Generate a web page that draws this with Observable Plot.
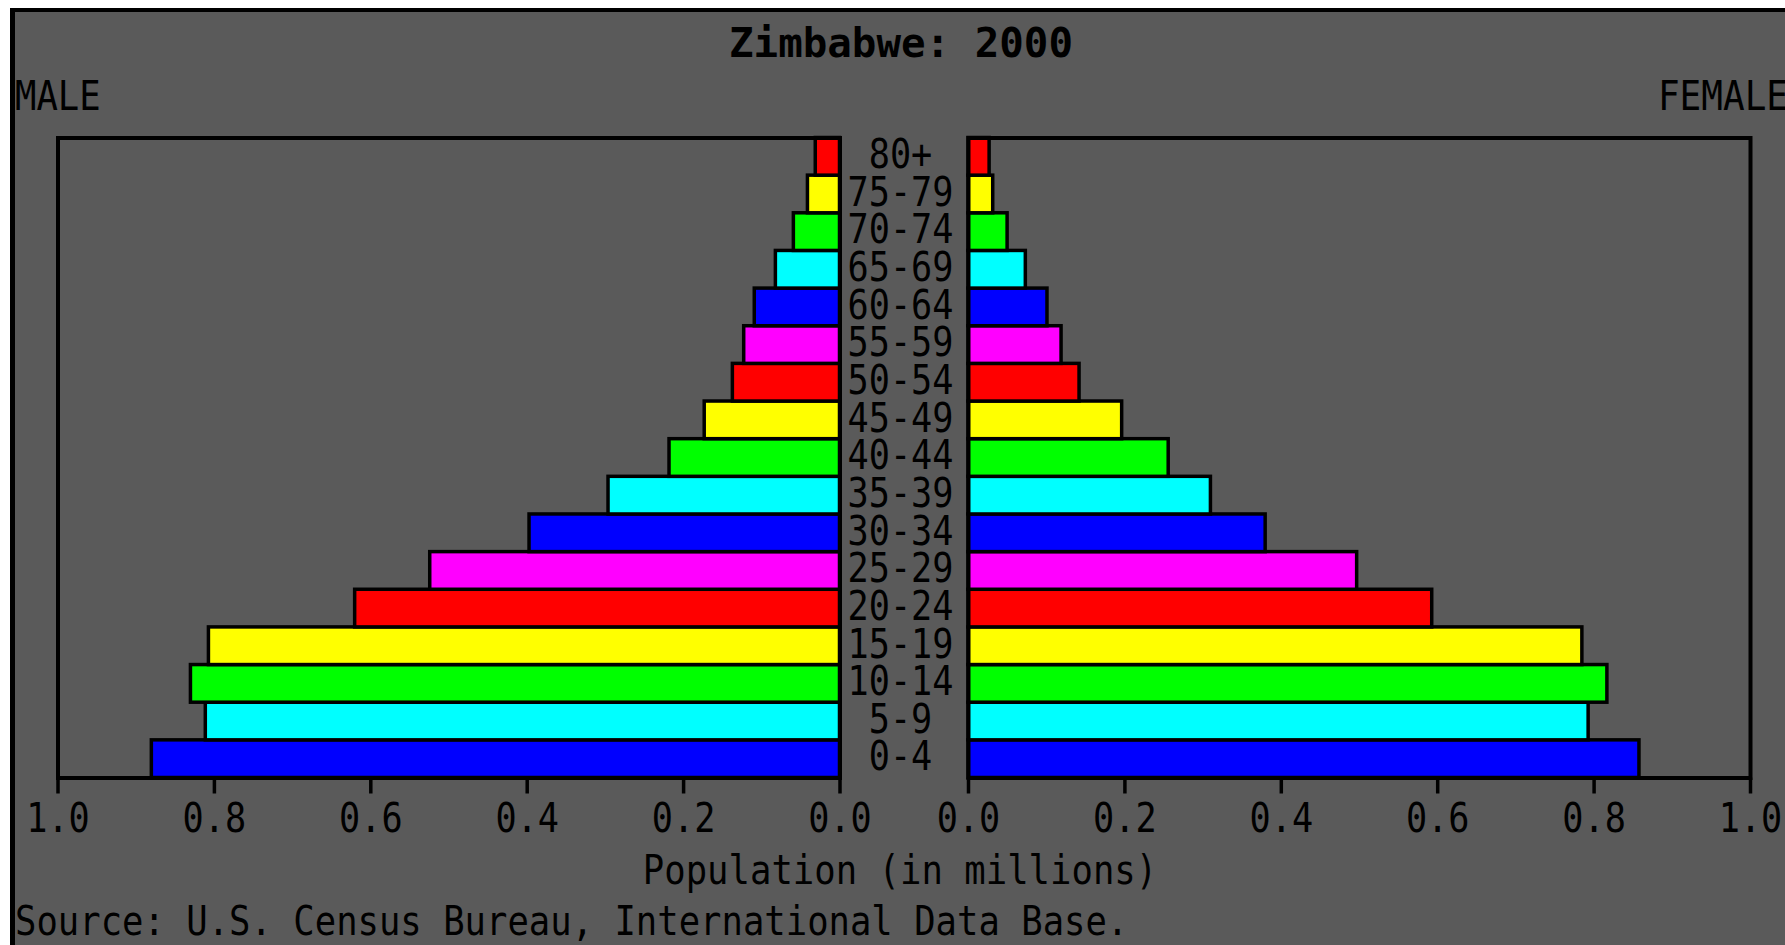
<!DOCTYPE html>
<html>
<head>
<meta charset="utf-8">
<script src="https://cdn.jsdelivr.net/npm/d3@7"></script>
<script src="https://cdn.jsdelivr.net/npm/@observablehq/plot@0.6"></script>
<style>
html, body { margin: 0; padding: 0; background: #fff; }
#wrap { position: relative; width: 1785px; height: 945px; overflow: hidden; background: #fff; }
#panel { position: absolute; left: 10px; top: 8px; width: 1800px; height: 1000px; background: #5a5a5a;
  border-left: 5px solid #000; border-top: 4px solid #000; }
.layer { position: absolute; left: 0; top: 0; }
.layer svg { display: block; }
.txt { position: absolute; line-height: 0; white-space: nowrap; font-family: "DejaVu Sans Mono", monospace;
  font-size: 40px; color: #000; }
#title { left: 901px; top: 43px; font-weight: bold; transform-origin: 50% 50%; transform: translateX(-50%) scaleX(1.02); }
#maleLbl { left: 14.5px; top: 96px; transform-origin: 0 50%; transform: scaleX(0.89); }
#femaleLbl { left: 1788px; top: 96px; transform-origin: 100% 50%; transform: translateX(-100%) scaleX(0.9); }
#xlabel { left: 900px; top: 870px; transform-origin: 50% 50%; transform: translateX(-50%) scaleX(0.89); }
#source { left: 15px; top: 921px; transform-origin: 0 50%; transform: scaleX(0.889); }
</style>
</head>
<body>
<div id="wrap">
  <div id="panel"></div>
  <div id="male" class="layer"></div>
  <div id="female" class="layer"></div>
  <div class="txt" id="title">Zimbabwe: 2000</div>
  <div class="txt" id="maleLbl">MALE</div>
  <div class="txt" id="femaleLbl">FEMALE</div>
  <div class="txt" id="xlabel">Population (in millions)</div>
  <div class="txt" id="source">Source: U.S. Census Bureau, International Data Base.</div>
</div>
<script>
// Age groups, bottom to top
const ages = ["0-4","5-9","10-14","15-19","20-24","25-29","30-34","35-39","40-44",
              "45-49","50-54","55-59","60-64","65-69","70-74","75-79","80+"];
// Population in millions
const maleValues   = [0.880, 0.811, 0.830, 0.807, 0.620, 0.524, 0.397, 0.296, 0.218,
                      0.173, 0.137, 0.1225, 0.109, 0.082, 0.059, 0.041, 0.031];
const femaleValues = [0.858, 0.793, 0.817, 0.785, 0.593, 0.497, 0.380, 0.310, 0.256,
                      0.1965, 0.142, 0.119, 0.101, 0.0733, 0.050, 0.0316, 0.027];
// Bar colours per age group (style)
const ageColors = ["#0000ff","#00ffff","#00ff00","#ffff00","#ff0000","#ff00ff",
                   "#0000ff","#00ffff","#00ff00","#ffff00","#ff0000","#ff00ff",
                   "#0000ff","#00ffff","#00ff00","#ffff00","#ff0000"];
const xTicks = [0, 0.2, 0.4, 0.6, 0.8, 1.0];

const rows = ages.map((age, i) => ({age, male: maleValues[i], female: femaleValues[i], color: ageColors[i]}));

const W = 1785, H = 945;
const CHAR_W = 21.2;
const common = {
  width: W, height: H, marginTop: 137.5, marginBottom: H - 777.5,
  y: {type: "band", domain: ages.slice().reverse(), padding: 0, round: false, axis: null},
  color: {type: "identity"},
  style: {background: "transparent", fontFamily: "'DejaVu Sans Mono', monospace", fontSize: "40px", color: "#000", overflow: "visible"}
};

function axis() {
  return Plot.axisX({ticks: xTicks, tickFormat: d3.format(".1f"), tickSize: 16, tickPadding: 10,
    strokeWidth: 3.5, stroke: "#000", fill: "#000", fontSize: 40, label: null});
}

const malePlot = Plot.plot({
  ...common,
  marginLeft: 57.5, marginRight: W - 839.5,
  x: {domain: [0, 1], reverse: true, label: null},
  marks: [
    Plot.barX(rows, {x: "male", y: "age", fill: "color", stroke: "#000", strokeWidth: 3.5}),
    Plot.frame({stroke: "#000", strokeWidth: 4}),
    axis(),
    Plot.text(ages, {y: d => d, text: d => d, frameAnchor: "right", dx: 60.5, dy: -1.5, textAnchor: "middle", fontSize: 40, fill: "#000"})
  ]
});

const femalePlot = Plot.plot({
  ...common,
  marginLeft: 968, marginRight: W - 1750,
  x: {domain: [0, 1], label: null},
  marks: [
    Plot.barX(rows, {x: "female", y: "age", fill: "color", stroke: "#000", strokeWidth: 3.5}),
    Plot.frame({stroke: "#000", strokeWidth: 4}),
    axis()
  ]
});

function squeeze(svg) {
  svg.querySelectorAll("text").forEach(t => {
    const s = t.textContent;
    t.setAttribute("textLength", (s.length * CHAR_W).toFixed(1));
    t.setAttribute("lengthAdjust", "spacingAndGlyphs");
  });
}
squeeze(malePlot);
squeeze(femalePlot);
document.getElementById("male").appendChild(malePlot);
document.getElementById("female").appendChild(femalePlot);
</script>
</body>
</html>
